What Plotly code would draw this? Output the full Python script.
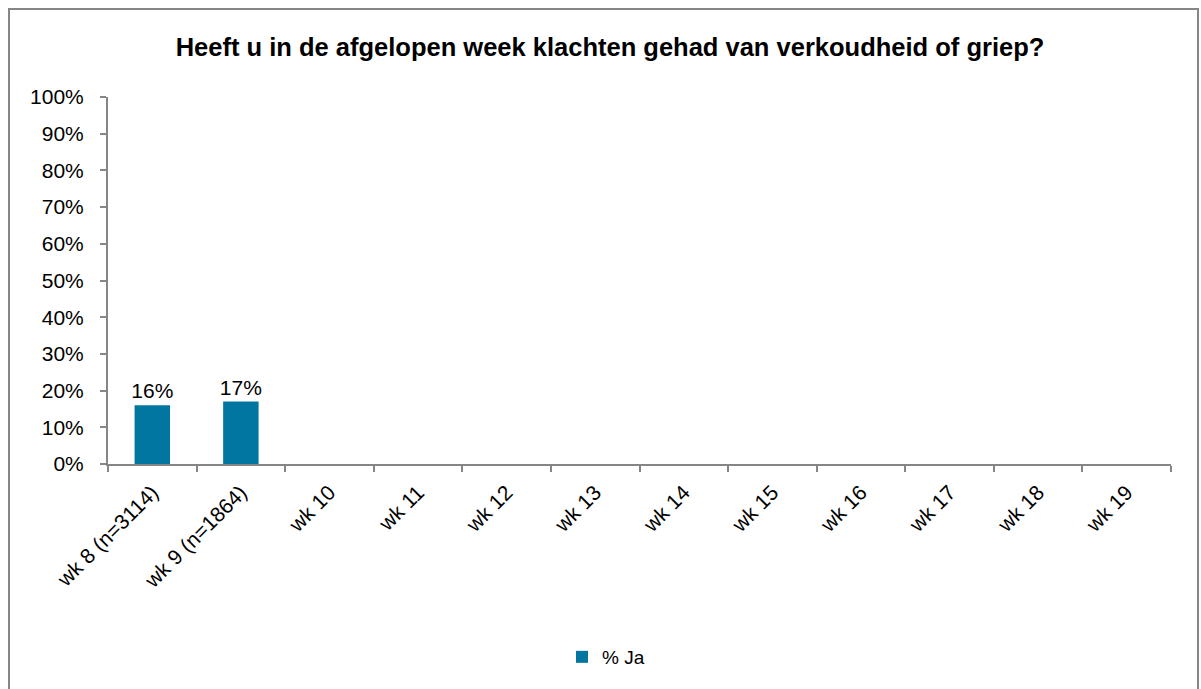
import plotly.graph_objects as go

categories = ["wk 8 (n=3114)", "wk 9 (n=1864)", "wk 10", "wk 11", "wk 12", "wk 13",
              "wk 14", "wk 15", "wk 16", "wk 17", "wk 18", "wk 19"]
pct_ja = [0.16, 0.17, None, None, None, None, None, None, None, None, None, None]
labels = ["16%", "17%", "", "", "", "", "", "", "", "", "", ""]
y_ticks = [0, 0.1, 0.2, 0.3, 0.4, 0.5, 0.6, 0.7, 0.8, 0.9, 1.0]
y_tick_text = ["0%", "10%", "20%", "30%", "40%", "50%", "60%", "70%", "80%", "90%", "100%"]

FONT = "Liberation Sans"
AX = "#868686"
W, H = 1201, 689
L, R, T, B = 108, 30, 97, 225
pw, ph = W - L - R, H - T - B

fig = go.Figure()
fig.add_trace(go.Bar(
    x=categories, y=pct_ja, name="% Ja",
    marker=dict(color="#0076A0", line=dict(width=0)),
    text=labels, textposition="outside", cliponaxis=False, constraintext="none",
    textfont=dict(family=FONT, size=21, color="#000000"),
))

def px_x(p):
    return (p - L) / pw

def px_y(p):
    return (H - B - p) / ph

fig.update_layout(
    width=W, height=H,
    margin=dict(l=L, r=R, t=T, b=B, autoexpand=False),
    paper_bgcolor="white", plot_bgcolor="white",
    bargap=0.6,
    showlegend=True,
    title=dict(text="<b>Heeft u in de afgelopen week klachten gehad van verkoudheid of griep?</b>",
               x=610 / W, xanchor="center",
               y=1 - 47 / H, yanchor="middle",
               font=dict(family=FONT, size=25.5, color="#000000")),
    legend=dict(orientation="h", x=px_x(606), xanchor="center", y=px_y(657), yanchor="middle",
                font=dict(family=FONT, size=19, color="#000000"),
                itemwidth=30, bgcolor="rgba(0,0,0,0)"),
    xaxis=dict(showline=True, linecolor=AX, linewidth=2, ticks="outside", ticklen=6,
               tickcolor=AX, tickwidth=2, tickson="boundaries", tickangle=-45,
               tickfont=dict(family=FONT, size=21, color="#000000"), showgrid=False,
               range=[-0.5, 11.5], ticklabelstandoff=6),
    yaxis=dict(range=[0, 1], tickvals=y_ticks, ticktext=y_tick_text, showline=True,
               linecolor=AX, linewidth=2, ticks="outside", ticklen=6, tickcolor=AX,
               tickwidth=2, tickfont=dict(family=FONT, size=21, color="#000000"),
               showgrid=False, zeroline=False, ticklabelstandoff=12),
    shapes=[dict(type="rect", xref="paper", yref="paper",
                 x0=px_x(9), x1=px_x(1198), y0=px_y(690), y1=px_y(9),
                 line=dict(color=AX, width=2), fillcolor="rgba(0,0,0,0)", layer="below")],
)

fig.write_html("out.html", post_script="document.body.style.margin='0';",
               config={"displayModeBar": False})
